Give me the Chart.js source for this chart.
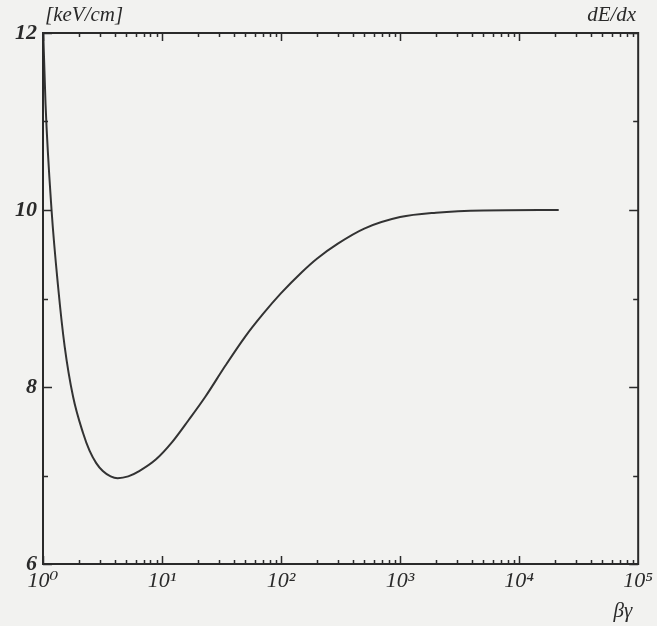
<!DOCTYPE html>
<html>
<head>
<meta charset="utf-8">
<script src="https://cdn.jsdelivr.net/npm/chart.js@4/dist/chart.umd.min.js"></script>
<style>
  html, body { margin: 0; padding: 0; background: #f2f2f0; }
  canvas { display: block; }
</style>
</head>
<body>
<canvas id="chart" width="657" height="626" style="width:657px;height:626px"></canvas>
<script>
// dE/dx gegen beta*gamma
const betaGamma = [1.0, 1.05, 1.18, 1.34, 1.52, 1.79, 2.17, 2.46, 2.8, 3.18, 3.7, 4.24, 5.2,
  6.43, 8.86, 12.2, 16.8, 23.1, 34, 50, 70, 100, 150, 200, 300, 500, 1000, 2000, 5000, 21500];
const dEdx = [12.1, 11.2, 10.0, 9.13, 8.46, 7.89, 7.48, 7.28, 7.14, 7.05, 6.99, 6.97, 6.99,
  7.05, 7.18, 7.38, 7.63, 7.89, 8.24, 8.57, 8.82, 9.06, 9.3, 9.45, 9.62, 9.79, 9.92, 9.97, 9.995, 10.0];

const xTicks = [1, 10, 100, 1000, 10000, 100000];
const xTickLabels = ["10⁰", "10¹", "10²", "10³", "10⁴", "10⁵"];
const yTicks = [6, 8, 10, 12];
const yMinorTicks = [7, 9, 11];

const serif = "'Liberation Serif', 'DejaVu Serif', serif";
const ink = "#2a2a2a";

// Rahmen und nach innen zeigende Striche
const framePlugin = {
  id: "frame",
  afterDraw(chart) {
    const { ctx, chartArea: a, scales } = chart;
    const x = scales.x, y = scales.y;
    ctx.save();
    ctx.strokeStyle = ink;
    ctx.lineWidth = 2;
    ctx.strokeRect(a.left, a.top, a.right - a.left, a.bottom - a.top);
    ctx.lineWidth = 1.5;
    ctx.beginPath();
    // x: Dekaden und Zwischenstriche, unten und oben
    for (let d = 1; d <= 10000; d *= 10) {
      for (let m = 1; m <= 9; m++) {
        const px = Math.round(x.getPixelForValue(m * d)) + 0.5;
        const len = m === 1 ? 8 : 4;
        ctx.moveTo(px, a.bottom);
        ctx.lineTo(px, a.bottom - len);
        ctx.moveTo(px, a.top);
        ctx.lineTo(px, a.top + len);
      }
    }
    // y: links und rechts
    yTicks.concat(yMinorTicks).forEach((v) => {
      const py = Math.round(y.getPixelForValue(v)) + 0.5;
      const len = yTicks.includes(v) ? 9 : 5;
      ctx.moveTo(a.left, py);
      ctx.lineTo(a.left + len, py);
      ctx.moveTo(a.right, py);
      ctx.lineTo(a.right - len, py);
    });
    ctx.stroke();

    // Achsenbeschriftungen
    ctx.fillStyle = ink;
    ctx.font = "italic 21px " + serif;
    ctx.textBaseline = "alphabetic";
    ctx.textAlign = "left";
    ctx.fillText("[keV/cm]", a.left + 2, 21);
    ctx.textAlign = "right";
    ctx.fillText("dE/dx", a.right - 2, 21);
    ctx.fillText("βγ", a.right - 6, 617);
    ctx.restore();
  },
};

new Chart(document.getElementById("chart"), {
  type: "line",
  data: {
    labels: betaGamma,
    datasets: [
      {
        label: "dE/dx",
        data: betaGamma.map((b, i) => ({ x: b, y: dEdx[i] })),
        borderColor: "#333333",
        borderWidth: 2,
        pointRadius: 0,
        fill: false,
        cubicInterpolationMode: "monotone",
      },
    ],
  },
  options: {
    responsive: false,
    animation: false,
    layout: { padding: { top: 33, right: 14, left: 0, bottom: 0 } },
    plugins: { legend: { display: false }, tooltip: { enabled: false } },
    scales: {
      x: {
        type: "logarithmic",
        min: 1,
        max: 100000,
        afterBuildTicks: (s) => {
          s.ticks = xTicks.map((v) => ({ value: v }));
        },
        afterFit: (s) => {
          s.height = 62;
        },
        grid: { drawOnChartArea: false, drawTicks: false },
        border: { display: false },
        ticks: {
          autoSkip: false,
          maxRotation: 0,
          padding: 4,
          color: ink,
          font: { family: serif, size: 22, style: "italic" },
          callback: (v) => {
            const i = xTicks.indexOf(v);
            return i >= 0 ? xTickLabels[i] : "";
          },
        },
      },
      y: {
        min: 6,
        max: 12,
        afterBuildTicks: (s) => {
          s.ticks = yTicks.map((v) => ({ value: v }));
        },
        afterFit: (s) => {
          s.width = 43;
        },
        grid: { drawOnChartArea: false, drawTicks: false },
        border: { display: false },
        ticks: {
          padding: 6,
          color: ink,
          font: { family: serif, size: 22, style: "italic", weight: "bold" },
        },
      },
    },
  },
  plugins: [framePlugin],
});
</script>
</body>
</html>
